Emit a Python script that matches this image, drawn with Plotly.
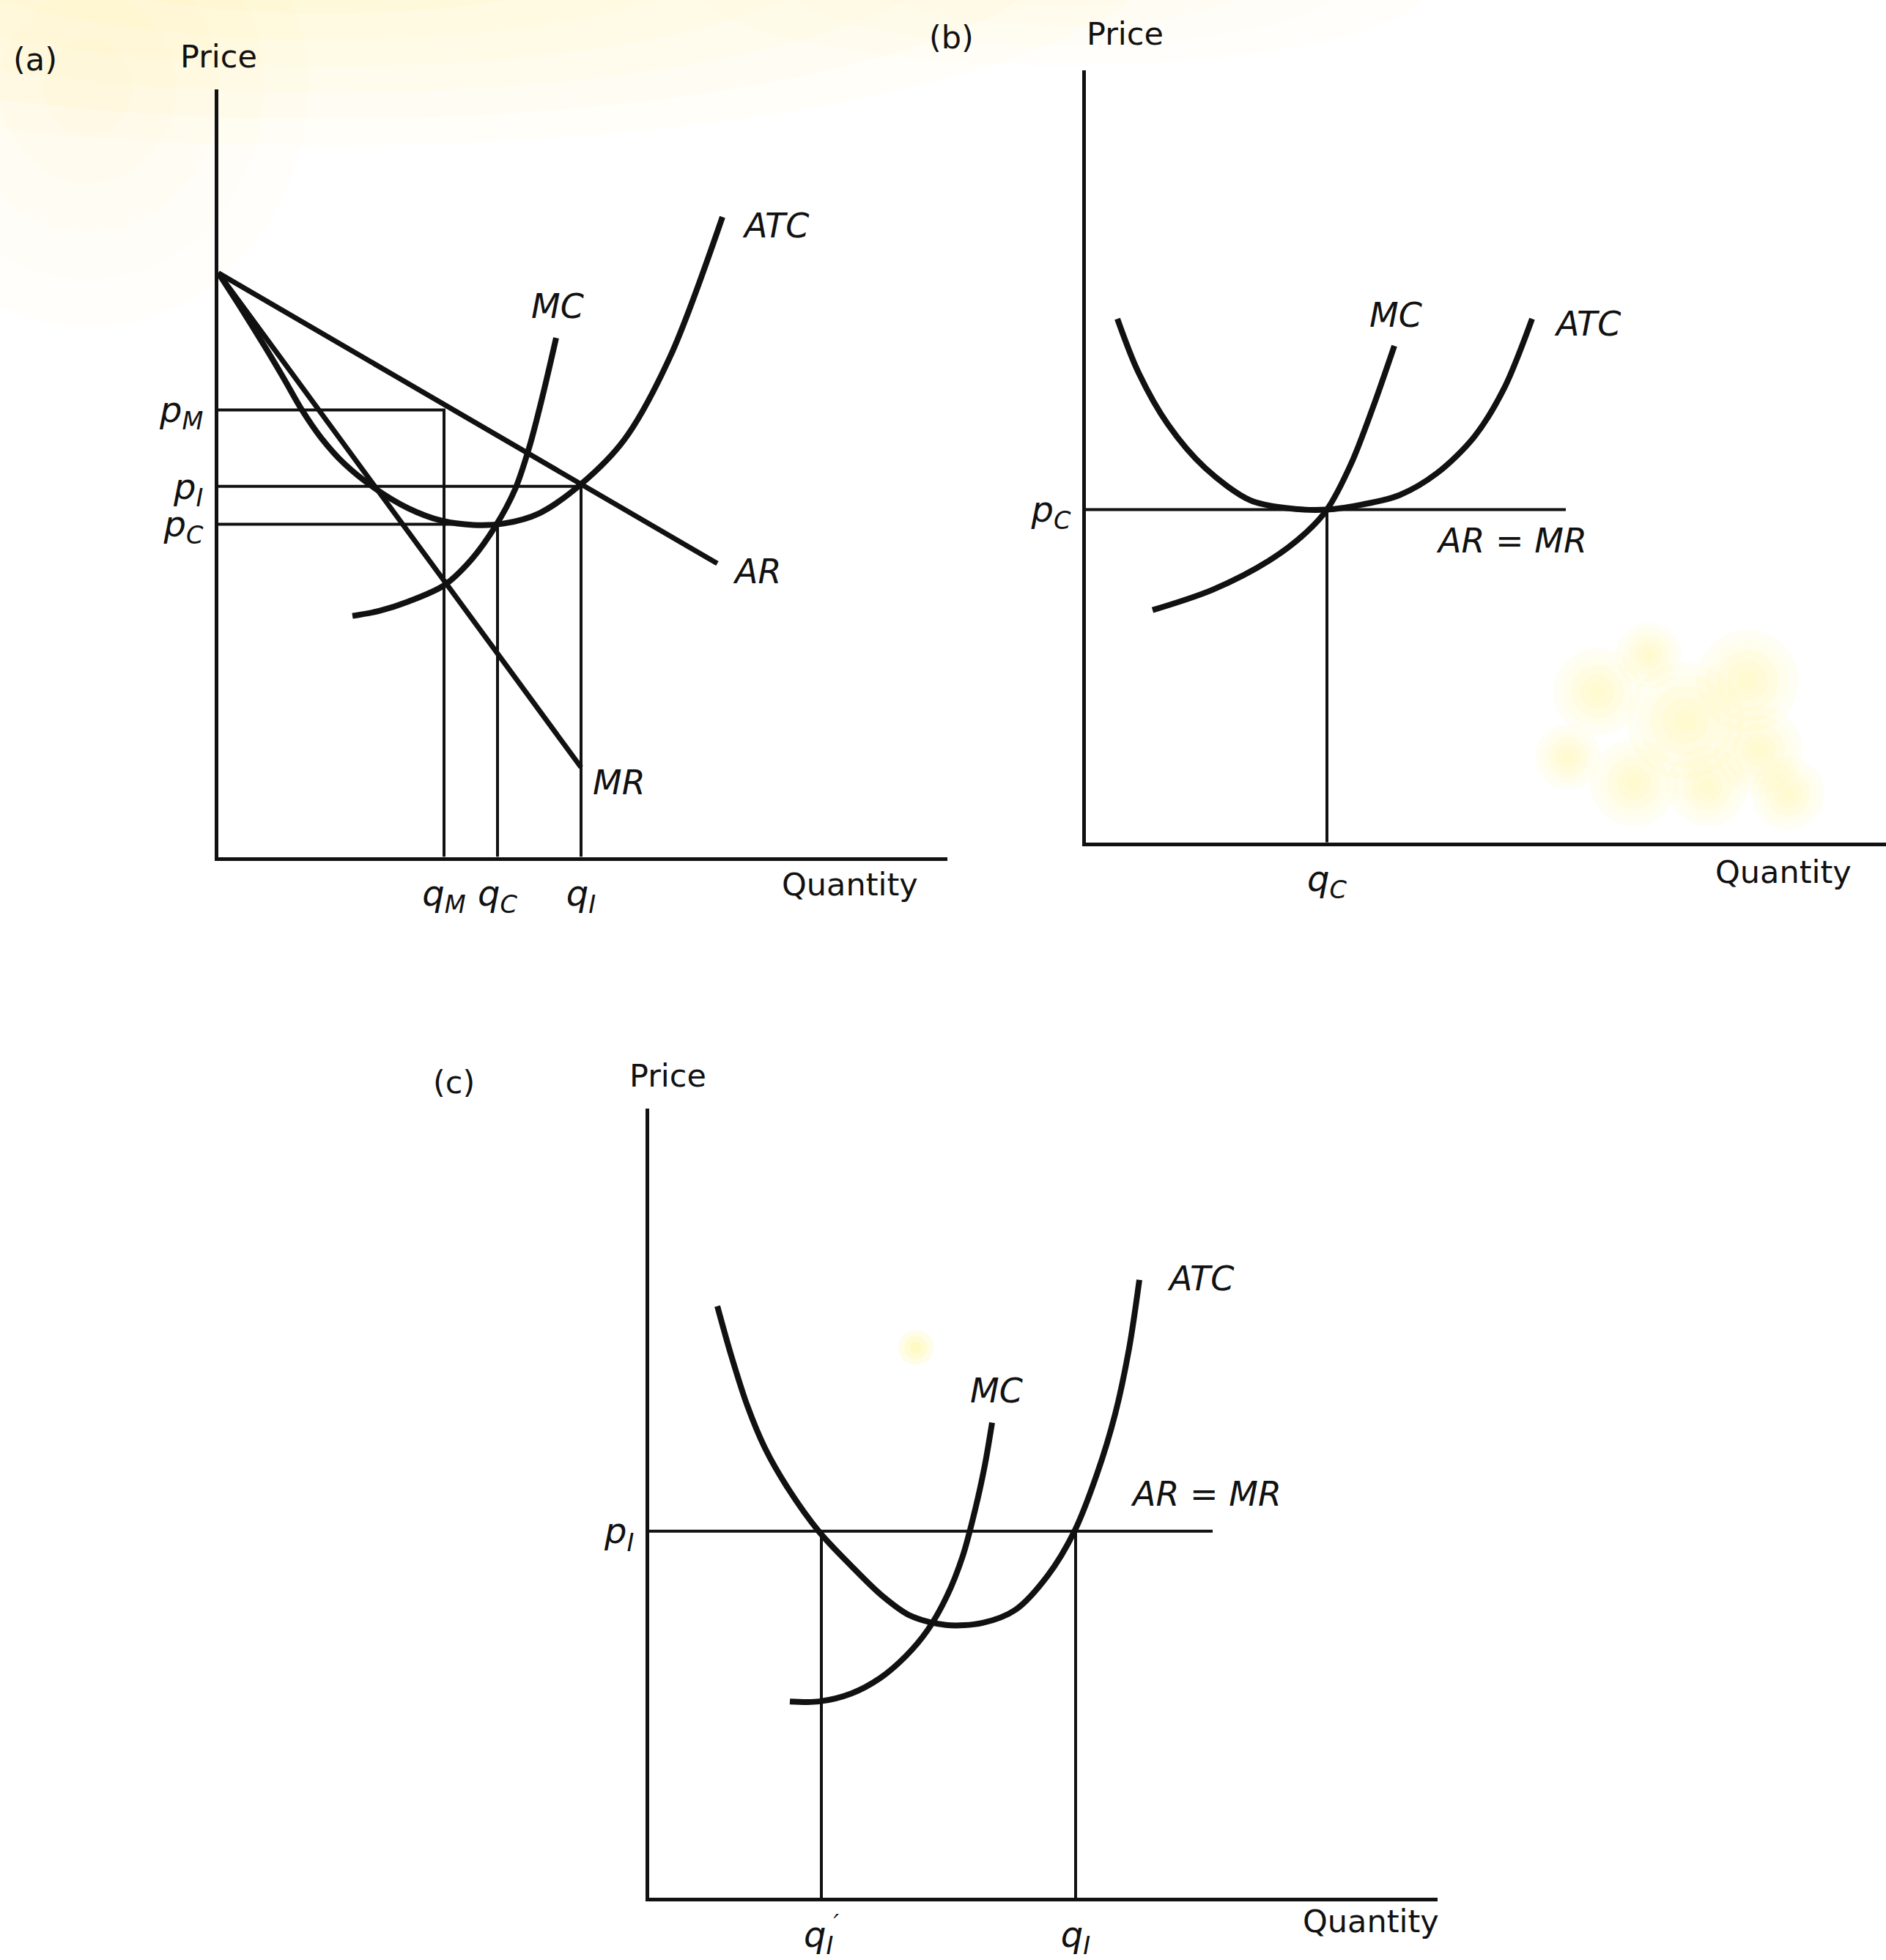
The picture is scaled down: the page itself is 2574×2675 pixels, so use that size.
import plotly.graph_objects as go

W, H = 2574, 2675
FONT = "DejaVu Sans"
INK = "#111111"

# ---------------- Panel (a): monopoly, competitive and intermediate outcomes
a_ar_q = [0, 68.1]
a_ar_p = [80.2, 40.3]
a_mr_q = [0, 49.5]
a_mr_p = [80.2, 12.3]
a_atc_q = [0, 3.2, 6.4, 9.0, 11.4, 14.0, 17.2, 21.4, 25.9, 30.4, 34.8, 39.0, 43.8, 49.5, 55.4, 61.7, 68.8]
a_atc_p = [80.2, 75.2, 70.0, 65.6, 61.4, 57.6, 54.0, 50.6, 47.9, 46.2, 45.6, 45.8, 47.2, 51.2, 57.3, 68.8, 87.9]
a_mc_q = [18.3, 22.0, 26.0, 30.8, 34.5, 37.8, 40.5, 42.5, 44.3, 46.1]
a_mc_p = [33.1, 33.8, 35.1, 37.3, 40.8, 45.4, 50.5, 56.5, 63.5, 71.3]
a_q = {"M": 30.8, "C": 38.1, "I": 49.5}
a_p = {"M": 61.4, "I": 50.9, "C": 45.7}

# ---------------- Panel (b): perfect competition, long-run equilibrium
b_atc_q = [4.3, 7.1, 11.2, 16.3, 22.4, 27.5, 32.9, 37.7, 42.8, 47.9, 53.0, 57.1, 60.9]
b_atc_p = [71.9, 64.7, 57.4, 51.4, 47.0, 45.9, 45.7, 46.4, 47.7, 50.7, 55.7, 62.4, 71.9]
b_mc_q = [9.1, 17.3, 25.0, 30.1, 32.9, 36.2, 39.2, 42.1]
b_mc_p = [31.9, 34.7, 38.7, 42.6, 45.7, 52.0, 59.8, 68.2]
b_pC, b_qC = 45.7, 32.9
b_ar_end = 65.5

# ---------------- Panel (c): price taker at p_I
c_atc_q = [9.3, 11.2, 13.4, 15.8, 18.8, 23.2, 27.6, 31.7, 35.6, 40.5, 45.5, 50.0, 54.4, 58.0, 61.1, 63.6, 65.5, 66.9]
c_atc_p = [81.3, 74.5, 67.6, 61.8, 56.5, 50.3, 45.6, 41.6, 38.8, 37.5, 37.8, 39.6, 44.3, 50.3, 58.2, 66.5, 75.5, 84.9]
c_mc_q = [19.2, 23.2, 27.6, 31.5, 35.0, 38.0, 40.6, 42.8, 44.5, 45.8, 46.8]
c_mc_p = [27.0, 27.0, 28.1, 30.2, 33.2, 36.8, 41.4, 47.0, 53.4, 59.4, 65.3]
c_pI = 50.4
c_qI1, c_qI = 23.5, 58.2
c_ar_end = 76.9

# axis extents of each panel (quantity, price)
ranges = {
    "a": ([0, 99.5], [0, 105.4]),
    "b": ([0, 109.2], [0, 106.0]),
    "c": ([0, 107.6], [0, 108.4]),
}
# plotting frames in page pixels: left, top, right, bottom
frames = {
    "a": (298, 123, 1293, 1177),
    "b": (1482, 97, 2574, 1157),
    "c": (886, 1523, 1962, 2607),
}
axis_ids = {"a": ("x", "y"), "b": ("x2", "y2"), "c": ("x3", "y3")}

fig = go.Figure()


def line(panel, xs, ys, width, shape="linear"):
    xa, ya = axis_ids[panel]
    fig.add_trace(go.Scatter(
        x=xs, y=ys, mode="lines", xaxis=xa, yaxis=ya, hoverinfo="skip",
        line=dict(color=INK, width=width, shape=shape, smoothing=0.9),
        showlegend=False,
    ))


# panel (a)
line("a", [0, a_q["M"], a_q["M"]], [a_p["M"], a_p["M"], 0], 4)
line("a", [0, a_q["I"], a_q["I"]], [a_p["I"], a_p["I"], 0], 4)
line("a", [0, a_q["C"], a_q["C"]], [a_p["C"], a_p["C"], 0], 4)
line("a", a_ar_q, a_ar_p, 7)
line("a", a_mr_q, a_mr_p, 7)
line("a", a_atc_q, a_atc_p, 8, "spline")
line("a", a_mc_q, a_mc_p, 8, "spline")

# panel (b)
line("b", [0, b_ar_end], [b_pC, b_pC], 4)
line("b", [b_qC, b_qC], [b_pC, 0], 4)
line("b", b_atc_q, b_atc_p, 8, "spline")
line("b", b_mc_q, b_mc_p, 8, "spline")

# panel (c)
line("c", [0, c_ar_end], [c_pI, c_pI], 4)
line("c", [c_qI1, c_qI1], [c_pI, 0], 4)
line("c", [c_qI, c_qI], [c_pI, 0], 4)
line("c", c_atc_q, c_atc_p, 8, "spline")
line("c", c_mc_q, c_mc_p, 8, "spline")

# axis tick labels
ticks = {
    "a": ([a_q["M"], a_q["C"], a_q["I"]],
          ["<i>q<sub>M</sub></i>", "<i>q<sub>C</sub></i>", "<i>q<sub>I</sub></i>"],
          [a_p["M"], a_p["I"], a_p["C"]],
          ["<i>p<sub>M</sub></i>", "<i>p<sub>I</sub></i>", "<i>p<sub>C</sub></i>"]),
    "b": ([b_qC], ["<i>q<sub>C</sub></i>"], [b_pC], ["<i>p<sub>C</sub></i>"]),
    "c": ([c_qI1, c_qI], ["<i>q<sub>I</sub><sup>′</sup></i>", "<i>q<sub>I</sub></i>"],
          [c_pI], ["<i>p<sub>I</sub></i>"]),
}

layout_axes = {}
for key, (l, t, r, b) in frames.items():
    xa, ya = axis_ids[key]
    xname = "xaxis" + xa[1:]
    yname = "yaxis" + ya[1:]
    xr, yr = ranges[key]
    tx, ttx, ty, tty = ticks[key]
    common = dict(showgrid=False, zeroline=False, showline=True, linecolor=INK,
                  linewidth=5, ticks="", fixedrange=True,
                  tickfont=dict(family=FONT, size=48, color=INK))
    layout_axes[xname] = dict(common, domain=[l / W, r / W], range=xr, anchor=ya,
                              tickvals=tx, ticktext=ttx, ticklabelstandoff=4)
    layout_axes[yname] = dict(common, domain=[1 - b / H, 1 - t / H], range=yr, anchor=xa,
                              tickvals=ty, ticktext=tty, ticklabelstandoff=6)

# curve names and axis captions, placed in each panel's (quantity, price) units
labels = {
    "a": [("(a)", -25.0, 109.5, False), ("Price", 0.0, 110.0, False),
          ("Quantity", 86.2, -3.8, False), ("MC", 46.3, 75.6, True),
          ("ATC", 76.0, 86.7, True), ("AR", 73.5, 39.2, True), ("MR", 54.7, 10.2, True)],
    "b": [("(b)", -18.4, 110.6, False), ("Price", 5.3, 111.1, False),
          ("Quantity", 95.2, -4.1, False), ("MC", 42.3, 72.4, True),
          ("ATC", 68.4, 71.2, True), ("AR = MR", 58.1, 41.4, True)],
    "c": [("(c)", -26.7, 112.1, False), ("Price", 2.5, 113.0, False),
          ("Quantity", 98.5, -3.2, False), ("MC", 47.4, 69.7, True),
          ("ATC", 75.2, 85.1, True), ("AR = MR", 76.0, 55.5, True)],
}
annotations = []
for key, items in labels.items():
    xa, ya = axis_ids[key]
    xr, yr = ranges[key]
    for text, x, y, ital in items:
        annotations.append(dict(
            text=f"<i>{text}</i>" if ital else text,
            x=(x - xr[0]) / (xr[1] - xr[0]), y=(y - yr[0]) / (yr[1] - yr[0]),
            xref=f"{xa} domain", yref=f"{ya} domain",
            showarrow=False, xanchor="center", yanchor="middle",
            font=dict(family=FONT, size=46 if ital else 43, color=INK),
        ))

# faint yellow discolouration of the paper
shapes = []


def stain(cx, cy, rx, ry, layers, op, color="#ffe14d"):
    for k in range(layers):
        f = 1 - k / layers
        shapes.append(dict(type="circle", xref="paper", yref="paper", layer="below",
                           x0=(cx - rx * f) / W, x1=(cx + rx * f) / W,
                           y0=1 - (cy + ry * f) / H, y1=1 - (cy - ry * f) / H,
                           fillcolor=color, opacity=op, line=dict(width=0)))


stain(450, -90, 1150, 290, 8, 0.03)
stain(120, 120, 300, 330, 5, 0.025)
stain(1450, -20, 500, 110, 4, 0.025)
for cx, cy, r in [(2230, 1075, 60), (2385, 935, 70), (2440, 1090, 50), (2300, 990, 80),
                  (2180, 950, 60), (2400, 1030, 60), (2330, 1080, 55), (2250, 900, 45),
                  (2140, 1040, 45)]:
    stain(cx, cy, r, r, 5, 0.05, "#fff533")
stain(1250, 1851, 24, 24, 3, 0.12, "#fff04a")

fig.update_layout(
    width=W, height=H, margin=dict(l=0, r=0, t=0, b=0),
    paper_bgcolor="#ffffff", plot_bgcolor="rgba(0,0,0,0)",
    showlegend=False, annotations=annotations, shapes=shapes,
    **layout_axes,
)

fig.write_html("out.html", config={"displayModeBar": False})
